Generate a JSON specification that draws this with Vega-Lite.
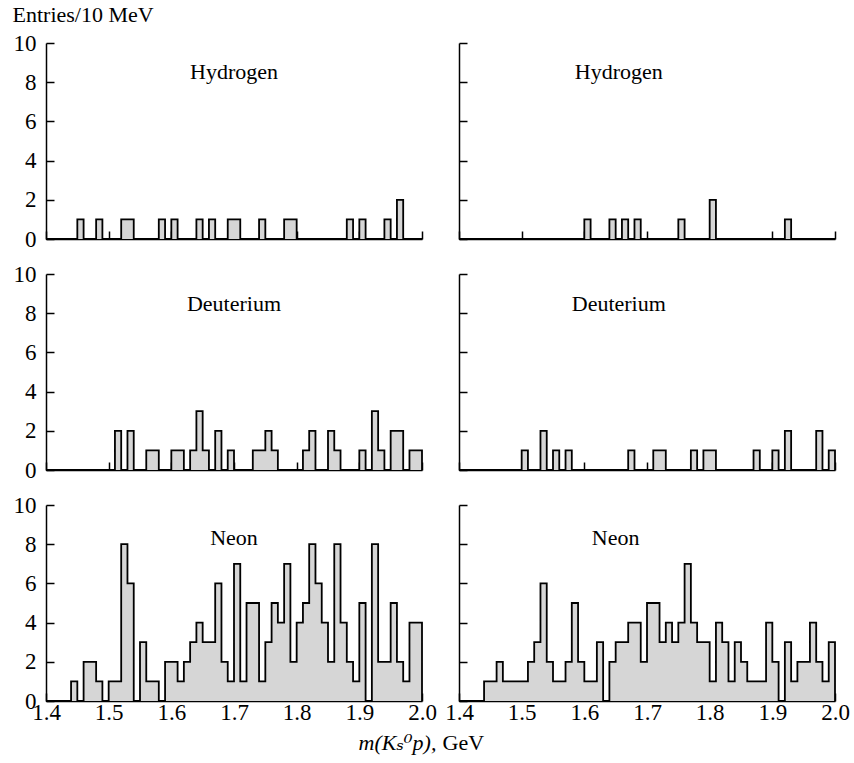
{
  "$schema": "https://vega.github.io/schema/vega-lite/v6.json",
  "background": "white",
  "padding": {"left": 12, "top": 3, "right": 5, "bottom": 5},
  "config": {
    "view": {"stroke": null},
    "font": "Liberation Serif",
    "axis": {
      "domainColor": "black", "domainWidth": 1.5,
      "tickColor": "black", "tickWidth": 1.5, "tickSize": -8,
      "labelFont": "Liberation Serif", "labelFontSize": 23, "labelColor": "black",
      "grid": false, "labelFlush": false, "labelOverlap": false, "labelBound": false,
      "titleFont": "Liberation Serif", "titleFontSize": 22, "titleColor": "black", "titleFontWeight": "normal"
    }
  },
  "datasets": {
    "HL": [
      {"m":1.40,"n":0},{"m":1.41,"n":0},{"m":1.42,"n":0},{"m":1.43,"n":0},{"m":1.44,"n":0},{"m":1.45,"n":1},{"m":1.46,"n":0},{"m":1.47,"n":0},{"m":1.48,"n":1},{"m":1.49,"n":0},
      {"m":1.50,"n":0},{"m":1.51,"n":0},{"m":1.52,"n":1},{"m":1.53,"n":1},{"m":1.54,"n":0},{"m":1.55,"n":0},{"m":1.56,"n":0},{"m":1.57,"n":0},{"m":1.58,"n":1},{"m":1.59,"n":0},
      {"m":1.60,"n":1},{"m":1.61,"n":0},{"m":1.62,"n":0},{"m":1.63,"n":0},{"m":1.64,"n":1},{"m":1.65,"n":0},{"m":1.66,"n":1},{"m":1.67,"n":0},{"m":1.68,"n":0},{"m":1.69,"n":1},
      {"m":1.70,"n":1},{"m":1.71,"n":0},{"m":1.72,"n":0},{"m":1.73,"n":0},{"m":1.74,"n":1},{"m":1.75,"n":0},{"m":1.76,"n":0},{"m":1.77,"n":0},{"m":1.78,"n":1},{"m":1.79,"n":1},
      {"m":1.80,"n":0},{"m":1.81,"n":0},{"m":1.82,"n":0},{"m":1.83,"n":0},{"m":1.84,"n":0},{"m":1.85,"n":0},{"m":1.86,"n":0},{"m":1.87,"n":0},{"m":1.88,"n":1},{"m":1.89,"n":0},
      {"m":1.90,"n":1},{"m":1.91,"n":0},{"m":1.92,"n":0},{"m":1.93,"n":0},{"m":1.94,"n":1},{"m":1.95,"n":0},{"m":1.96,"n":2},{"m":1.97,"n":0},{"m":1.98,"n":0},{"m":1.99,"n":0},
      {"m":2.00,"n":0}
    ],
    "HR": [
      {"m":1.40,"n":0},{"m":1.41,"n":0},{"m":1.42,"n":0},{"m":1.43,"n":0},{"m":1.44,"n":0},{"m":1.45,"n":0},{"m":1.46,"n":0},{"m":1.47,"n":0},{"m":1.48,"n":0},{"m":1.49,"n":0},
      {"m":1.50,"n":0},{"m":1.51,"n":0},{"m":1.52,"n":0},{"m":1.53,"n":0},{"m":1.54,"n":0},{"m":1.55,"n":0},{"m":1.56,"n":0},{"m":1.57,"n":0},{"m":1.58,"n":0},{"m":1.59,"n":0},
      {"m":1.60,"n":1},{"m":1.61,"n":0},{"m":1.62,"n":0},{"m":1.63,"n":0},{"m":1.64,"n":1},{"m":1.65,"n":0},{"m":1.66,"n":1},{"m":1.67,"n":0},{"m":1.68,"n":1},{"m":1.69,"n":0},
      {"m":1.70,"n":0},{"m":1.71,"n":0},{"m":1.72,"n":0},{"m":1.73,"n":0},{"m":1.74,"n":0},{"m":1.75,"n":1},{"m":1.76,"n":0},{"m":1.77,"n":0},{"m":1.78,"n":0},{"m":1.79,"n":0},
      {"m":1.80,"n":2},{"m":1.81,"n":0},{"m":1.82,"n":0},{"m":1.83,"n":0},{"m":1.84,"n":0},{"m":1.85,"n":0},{"m":1.86,"n":0},{"m":1.87,"n":0},{"m":1.88,"n":0},{"m":1.89,"n":0},
      {"m":1.90,"n":0},{"m":1.91,"n":0},{"m":1.92,"n":1},{"m":1.93,"n":0},{"m":1.94,"n":0},{"m":1.95,"n":0},{"m":1.96,"n":0},{"m":1.97,"n":0},{"m":1.98,"n":0},{"m":1.99,"n":0},
      {"m":2.00,"n":0}
    ],
    "DL": [
      {"m":1.40,"n":0},{"m":1.41,"n":0},{"m":1.42,"n":0},{"m":1.43,"n":0},{"m":1.44,"n":0},{"m":1.45,"n":0},{"m":1.46,"n":0},{"m":1.47,"n":0},{"m":1.48,"n":0},{"m":1.49,"n":0},
      {"m":1.50,"n":0},{"m":1.51,"n":2},{"m":1.52,"n":0},{"m":1.53,"n":2},{"m":1.54,"n":0},{"m":1.55,"n":0},{"m":1.56,"n":1},{"m":1.57,"n":1},{"m":1.58,"n":0},{"m":1.59,"n":0},
      {"m":1.60,"n":1},{"m":1.61,"n":1},{"m":1.62,"n":0},{"m":1.63,"n":1},{"m":1.64,"n":3},{"m":1.65,"n":1},{"m":1.66,"n":0},{"m":1.67,"n":2},{"m":1.68,"n":0},{"m":1.69,"n":1},
      {"m":1.70,"n":0},{"m":1.71,"n":0},{"m":1.72,"n":0},{"m":1.73,"n":1},{"m":1.74,"n":1},{"m":1.75,"n":2},{"m":1.76,"n":1},{"m":1.77,"n":0},{"m":1.78,"n":0},{"m":1.79,"n":0},
      {"m":1.80,"n":0},{"m":1.81,"n":1},{"m":1.82,"n":2},{"m":1.83,"n":0},{"m":1.84,"n":0},{"m":1.85,"n":2},{"m":1.86,"n":1},{"m":1.87,"n":0},{"m":1.88,"n":0},{"m":1.89,"n":0},
      {"m":1.90,"n":1},{"m":1.91,"n":0},{"m":1.92,"n":3},{"m":1.93,"n":1},{"m":1.94,"n":0},{"m":1.95,"n":2},{"m":1.96,"n":2},{"m":1.97,"n":0},{"m":1.98,"n":1},{"m":1.99,"n":1},
      {"m":2.00,"n":0}
    ],
    "DR": [
      {"m":1.40,"n":0},{"m":1.41,"n":0},{"m":1.42,"n":0},{"m":1.43,"n":0},{"m":1.44,"n":0},{"m":1.45,"n":0},{"m":1.46,"n":0},{"m":1.47,"n":0},{"m":1.48,"n":0},{"m":1.49,"n":0},
      {"m":1.50,"n":1},{"m":1.51,"n":0},{"m":1.52,"n":0},{"m":1.53,"n":2},{"m":1.54,"n":0},{"m":1.55,"n":1},{"m":1.56,"n":0},{"m":1.57,"n":1},{"m":1.58,"n":0},{"m":1.59,"n":0},
      {"m":1.60,"n":0},{"m":1.61,"n":0},{"m":1.62,"n":0},{"m":1.63,"n":0},{"m":1.64,"n":0},{"m":1.65,"n":0},{"m":1.66,"n":0},{"m":1.67,"n":1},{"m":1.68,"n":0},{"m":1.69,"n":0},
      {"m":1.70,"n":0},{"m":1.71,"n":1},{"m":1.72,"n":1},{"m":1.73,"n":0},{"m":1.74,"n":0},{"m":1.75,"n":0},{"m":1.76,"n":0},{"m":1.77,"n":1},{"m":1.78,"n":0},{"m":1.79,"n":1},
      {"m":1.80,"n":1},{"m":1.81,"n":0},{"m":1.82,"n":0},{"m":1.83,"n":0},{"m":1.84,"n":0},{"m":1.85,"n":0},{"m":1.86,"n":0},{"m":1.87,"n":1},{"m":1.88,"n":0},{"m":1.89,"n":0},
      {"m":1.90,"n":1},{"m":1.91,"n":0},{"m":1.92,"n":2},{"m":1.93,"n":0},{"m":1.94,"n":0},{"m":1.95,"n":0},{"m":1.96,"n":0},{"m":1.97,"n":2},{"m":1.98,"n":0},{"m":1.99,"n":1},
      {"m":2.00,"n":0}
    ],
    "NL": [
      {"m":1.40,"n":0},{"m":1.41,"n":0},{"m":1.42,"n":0},{"m":1.43,"n":0},{"m":1.44,"n":1},{"m":1.45,"n":0},{"m":1.46,"n":2},{"m":1.47,"n":2},{"m":1.48,"n":1},{"m":1.49,"n":0},
      {"m":1.50,"n":1},{"m":1.51,"n":1},{"m":1.52,"n":8},{"m":1.53,"n":6},{"m":1.54,"n":0},{"m":1.55,"n":3},{"m":1.56,"n":1},{"m":1.57,"n":1},{"m":1.58,"n":0},{"m":1.59,"n":2},
      {"m":1.60,"n":2},{"m":1.61,"n":1},{"m":1.62,"n":2},{"m":1.63,"n":3},{"m":1.64,"n":4},{"m":1.65,"n":3},{"m":1.66,"n":3},{"m":1.67,"n":6},{"m":1.68,"n":2},{"m":1.69,"n":1},
      {"m":1.70,"n":7},{"m":1.71,"n":1},{"m":1.72,"n":5},{"m":1.73,"n":5},{"m":1.74,"n":1},{"m":1.75,"n":3},{"m":1.76,"n":5},{"m":1.77,"n":4},{"m":1.78,"n":7},{"m":1.79,"n":2},
      {"m":1.80,"n":4},{"m":1.81,"n":5},{"m":1.82,"n":8},{"m":1.83,"n":6},{"m":1.84,"n":4},{"m":1.85,"n":2},{"m":1.86,"n":8},{"m":1.87,"n":4},{"m":1.88,"n":2},{"m":1.89,"n":1},
      {"m":1.90,"n":5},{"m":1.91,"n":0},{"m":1.92,"n":8},{"m":1.93,"n":2},{"m":1.94,"n":2},{"m":1.95,"n":5},{"m":1.96,"n":2},{"m":1.97,"n":1},{"m":1.98,"n":4},{"m":1.99,"n":4},
      {"m":2.00,"n":0}
    ],
    "NR": [
      {"m":1.40,"n":0},{"m":1.41,"n":0},{"m":1.42,"n":0},{"m":1.43,"n":0},{"m":1.44,"n":1},{"m":1.45,"n":1},{"m":1.46,"n":2},{"m":1.47,"n":1},{"m":1.48,"n":1},{"m":1.49,"n":1},
      {"m":1.50,"n":1},{"m":1.51,"n":2},{"m":1.52,"n":3},{"m":1.53,"n":6},{"m":1.54,"n":2},{"m":1.55,"n":1},{"m":1.56,"n":1},{"m":1.57,"n":2},{"m":1.58,"n":5},{"m":1.59,"n":2},
      {"m":1.60,"n":1},{"m":1.61,"n":1},{"m":1.62,"n":3},{"m":1.63,"n":0},{"m":1.64,"n":2},{"m":1.65,"n":3},{"m":1.66,"n":3},{"m":1.67,"n":4},{"m":1.68,"n":4},{"m":1.69,"n":2},
      {"m":1.70,"n":5},{"m":1.71,"n":5},{"m":1.72,"n":3},{"m":1.73,"n":4},{"m":1.74,"n":3},{"m":1.75,"n":4},{"m":1.76,"n":7},{"m":1.77,"n":4},{"m":1.78,"n":3},{"m":1.79,"n":3},
      {"m":1.80,"n":1},{"m":1.81,"n":4},{"m":1.82,"n":3},{"m":1.83,"n":1},{"m":1.84,"n":3},{"m":1.85,"n":2},{"m":1.86,"n":1},{"m":1.87,"n":1},{"m":1.88,"n":1},{"m":1.89,"n":4},
      {"m":1.90,"n":2},{"m":1.91,"n":0},{"m":1.92,"n":3},{"m":1.93,"n":1},{"m":1.94,"n":2},{"m":1.95,"n":2},{"m":1.96,"n":4},{"m":1.97,"n":2},{"m":1.98,"n":1},{"m":1.99,"n":3},
      {"m":2.00,"n":0}
    ]
  },
  "columns": 2,
  "spacing": {"row": 35, "column": 37},
  "bounds": "flush",
  "concat": [
    {
      "width": 376, "height": 196,
      "data": {"name": "HL"},
      "layer": [
        {"mark": {"type": "area", "interpolate": "step-after", "color": "#d6d6d6"},
         "encoding": {
           "x": {"field": "m", "type": "quantitative", "scale": {"domain": [1.4, 2.0]},
                 "axis": {"values": [1.4,1.5,1.6,1.7,1.8,1.9,2.0], "tickCount": 20, "labels": false, "title": null}},
           "y": {"field": "n", "type": "quantitative", "scale": {"domain": [0, 10]},
                 "axis": {"values": [0,2,4,6,8,10], "tickCount": 20, "format": "d", "labelOverlap": false, "labelPadding": 18, "title": "Entries/10 MeV",
                          "titleAngle": 0, "titleX": -34, "titleY": -29, "titleAlign": "left", "titleBaseline": "middle"}}}},
        {"mark": {"type": "line", "interpolate": "step-after", "color": "black", "strokeWidth": 1.8},
         "encoding": {"x": {"field": "m", "type": "quantitative"}, "y": {"field": "n", "type": "quantitative"}}},
        {"data": {"values": [{"label": "Hydrogen"}]},
         "mark": {"type": "text", "fontSize": 22, "font": "Liberation Serif", "color": "black"},
         "encoding": {"x": {"datum": 1.70}, "y": {"datum": 8.5}, "text": {"field": "label"}}}
      ]
    },
    {
      "width": 376, "height": 196,
      "data": {"name": "HR"},
      "layer": [
        {"mark": {"type": "area", "interpolate": "step-after", "color": "#d6d6d6"},
         "encoding": {
           "x": {"field": "m", "type": "quantitative", "scale": {"domain": [1.4, 2.0]},
                 "axis": {"values": [1.4,1.5,1.6,1.7,1.8,1.9,2.0], "tickCount": 20, "labels": false, "title": null}},
           "y": {"field": "n", "type": "quantitative", "scale": {"domain": [0, 10]},
                 "axis": {"values": [0,2,4,6,8,10], "tickCount": 20, "labels": false, "title": null}}}},
        {"mark": {"type": "line", "interpolate": "step-after", "color": "black", "strokeWidth": 1.8},
         "encoding": {"x": {"field": "m", "type": "quantitative"}, "y": {"field": "n", "type": "quantitative"}}},
        {"data": {"values": [{"label": "Hydrogen"}]},
         "mark": {"type": "text", "fontSize": 22, "font": "Liberation Serif", "color": "black"},
         "encoding": {"x": {"datum": 1.655}, "y": {"datum": 8.5}, "text": {"field": "label"}}}
      ]
    },
    {
      "width": 376, "height": 196,
      "data": {"name": "DL"},
      "layer": [
        {"mark": {"type": "area", "interpolate": "step-after", "color": "#d6d6d6"},
         "encoding": {
           "x": {"field": "m", "type": "quantitative", "scale": {"domain": [1.4, 2.0]},
                 "axis": {"values": [1.4,1.5,1.6,1.7,1.8,1.9,2.0], "tickCount": 20, "labels": false, "title": null}},
           "y": {"field": "n", "type": "quantitative", "scale": {"domain": [0, 10]},
                 "axis": {"values": [0,2,4,6,8,10], "tickCount": 20, "format": "d", "labelOverlap": false, "labelPadding": 18, "title": null}}}},
        {"mark": {"type": "line", "interpolate": "step-after", "color": "black", "strokeWidth": 1.8},
         "encoding": {"x": {"field": "m", "type": "quantitative"}, "y": {"field": "n", "type": "quantitative"}}},
        {"data": {"values": [{"label": "Deuterium"}]},
         "mark": {"type": "text", "fontSize": 22, "font": "Liberation Serif", "color": "black"},
         "encoding": {"x": {"datum": 1.70}, "y": {"datum": 8.45}, "text": {"field": "label"}}}
      ]
    },
    {
      "width": 376, "height": 196,
      "data": {"name": "DR"},
      "layer": [
        {"mark": {"type": "area", "interpolate": "step-after", "color": "#d6d6d6"},
         "encoding": {
           "x": {"field": "m", "type": "quantitative", "scale": {"domain": [1.4, 2.0]},
                 "axis": {"values": [1.4,1.5,1.6,1.7,1.8,1.9,2.0], "tickCount": 20, "labels": false, "title": null}},
           "y": {"field": "n", "type": "quantitative", "scale": {"domain": [0, 10]},
                 "axis": {"values": [0,2,4,6,8,10], "tickCount": 20, "labels": false, "title": null}}}},
        {"mark": {"type": "line", "interpolate": "step-after", "color": "black", "strokeWidth": 1.8},
         "encoding": {"x": {"field": "m", "type": "quantitative"}, "y": {"field": "n", "type": "quantitative"}}},
        {"data": {"values": [{"label": "Deuterium"}]},
         "mark": {"type": "text", "fontSize": 22, "font": "Liberation Serif", "color": "black"},
         "encoding": {"x": {"datum": 1.655}, "y": {"datum": 8.45}, "text": {"field": "label"}}}
      ]
    },
    {
      "width": 376, "height": 196,
      "data": {"name": "NL"},
      "layer": [
        {"mark": {"type": "area", "interpolate": "step-after", "color": "#d6d6d6"},
         "encoding": {
           "x": {"field": "m", "type": "quantitative", "scale": {"domain": [1.4, 2.0]},
                 "axis": {"values": [1.4,1.5,1.6,1.7,1.8,1.9,2.0], "tickCount": 20, "format": ".1f", "labelOverlap": false, "labelPadding": 8,
                          "title": "m(Kₛ⁰p),", "titleFont": "Liberation Serif, DejaVu Serif", "titleFontStyle": "italic", "titleFontSize": 22,
                          "titleX": 312, "titleY": 41, "titleAlign": "left", "titleBaseline": "middle"}},
           "y": {"field": "n", "type": "quantitative", "scale": {"domain": [0, 10]},
                 "axis": {"values": [0,2,4,6,8,10], "tickCount": 20, "format": "d", "labelOverlap": false, "labelPadding": 18, "title": null}}}},
        {"mark": {"type": "line", "interpolate": "step-after", "color": "black", "strokeWidth": 1.8},
         "encoding": {"x": {"field": "m", "type": "quantitative"}, "y": {"field": "n", "type": "quantitative"}}},
        {"data": {"values": [{"label": "Neon"}]},
         "mark": {"type": "text", "fontSize": 22, "font": "Liberation Serif", "color": "black"},
         "encoding": {"x": {"datum": 1.70}, "y": {"datum": 8.3}, "text": {"field": "label"}}}
      ]
    },
    {
      "width": 376, "height": 196,
      "data": {"name": "NR"},
      "layer": [
        {"mark": {"type": "area", "interpolate": "step-after", "color": "#d6d6d6"},
         "encoding": {
           "x": {"field": "m", "type": "quantitative", "scale": {"domain": [1.4, 2.0]},
                 "axis": {"values": [1.4,1.5,1.6,1.7,1.8,1.9,2.0], "tickCount": 20, "format": ".1f", "labelOverlap": false, "labelPadding": 8,
                          "title": "GeV", "titleFontSize": 22,
                          "titleX": -17, "titleY": 41, "titleAlign": "left", "titleBaseline": "middle"}},
           "y": {"field": "n", "type": "quantitative", "scale": {"domain": [0, 10]},
                 "axis": {"values": [0,2,4,6,8,10], "tickCount": 20, "labels": false, "title": null}}}},
        {"mark": {"type": "line", "interpolate": "step-after", "color": "black", "strokeWidth": 1.8},
         "encoding": {"x": {"field": "m", "type": "quantitative"}, "y": {"field": "n", "type": "quantitative"}}},
        {"data": {"values": [{"label": "Neon"}]},
         "mark": {"type": "text", "fontSize": 22, "font": "Liberation Serif", "color": "black"},
         "encoding": {"x": {"datum": 1.65}, "y": {"datum": 8.3}, "text": {"field": "label"}}}
      ]
    }
  ]
}
